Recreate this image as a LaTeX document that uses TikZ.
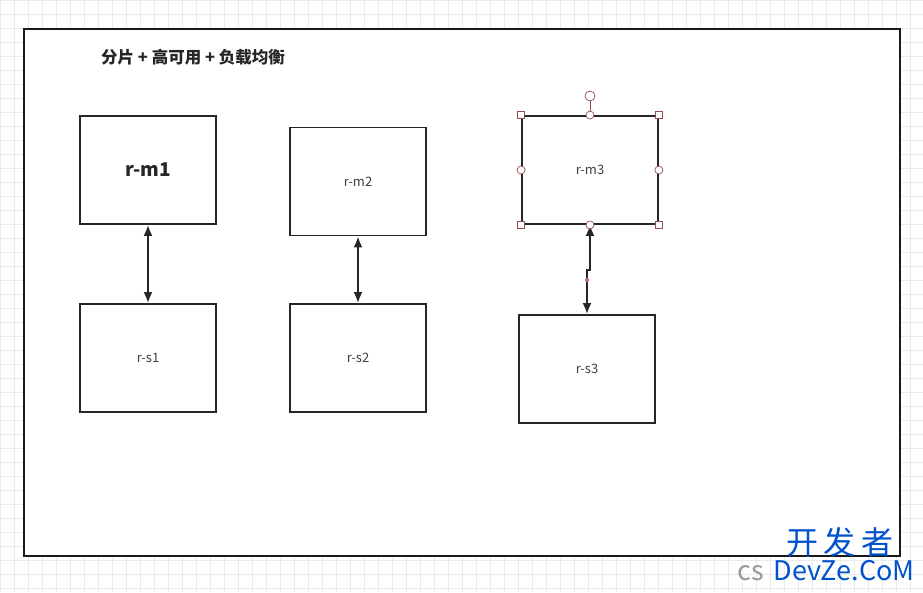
\documentclass[tikz,border=0pt]{standalone}
\usepackage{fontspec}
\setmainfont{Noto Sans CJK SC}
\newfontfamily\cjk{Noto Sans CJK SC}
\usetikzlibrary{arrows.meta}
\begin{document}
\begin{tikzpicture}[x=1pt,y=-1pt,
  box/.style={draw=black!85,line width=1.8pt,minimum width=136pt,minimum height=108pt,inner sep=0pt,font=\fontsize{13}{15}\selectfont,text=black!75},
  arr/.style={line width=2pt,black!85,{Latex[length=11pt,width=9pt]}-{Latex[length=11pt,width=9pt]}},
  hsq/.style={draw=red!40!black!70,fill=white,minimum size=7pt,inner sep=0pt,line width=0.7pt},
  hci/.style={draw=red!40!black!70,fill=white,circle,minimum size=8pt,inner sep=0pt,line width=0.7pt}]
\useasboundingbox (0,0) rectangle (923,592);
\fill[white] (0,0) rectangle (923,592);
\draw[black!8,step=14pt] (0,0) grid (923,592);
\node[draw=black!90,line width=1.5pt,fill=white,minimum width=876pt,minimum height=527pt,inner sep=0pt] (frame) at (462,292.5) {};
\node[font=\fontsize{16.5}{18}\selectfont\bfseries,text=black!85] (title) at (193,57) {分片 + 高可用 + 负载均衡};
\node[box,font=\fontsize{19}{21}\selectfont\bfseries,text=black!85] (m1) at (148,170) {r-m1};
\node[box] (s1) at (148,358) {r-s1};
\node[box] (m2) at (358,181.5) {r-m2};
\node[box] (s2) at (358,358) {r-s2};
\node[box] (m3) at (590,170) {r-m3};
\node[box] (s3) at (587,369) {r-s3};
\draw[arr] (m1.south) -- (s1.north);
\draw[arr] (m2.south) -- (s2.north);
\coordinate (j1) at (590,270);
\coordinate (j2) at (587,270);
\draw[arr] (m3.south) -- (j1) -- (j2) -- (s3.north);
\fill[red!60!black!60] (587,280) circle (2pt);
\draw[red!40!black!70,line width=0.7pt] (m3.north) -- (590,96);
\node[hci,minimum size=10pt] (rot) at (590,96) {};
\foreach \a in {north west,north east,south west,south east}{\node[hsq] at (m3.\a) {};}
\foreach \a in {north,south,east,west}{\node[hci] at (m3.\a) {};}
\node[font=\fontsize{32}{34}\selectfont,text=blue!60!cyan!80!black] (wm1) at (840,542) {开\,发\,者};
\node[font=\fontsize{27}{29}\selectfont,text=blue!60!cyan!80!black] (wm2) at (844,571) {\rlap{\hspace{-36pt}\textcolor{black!40}{cs}}DevZe.CoM};
\end{tikzpicture}
\end{document}
